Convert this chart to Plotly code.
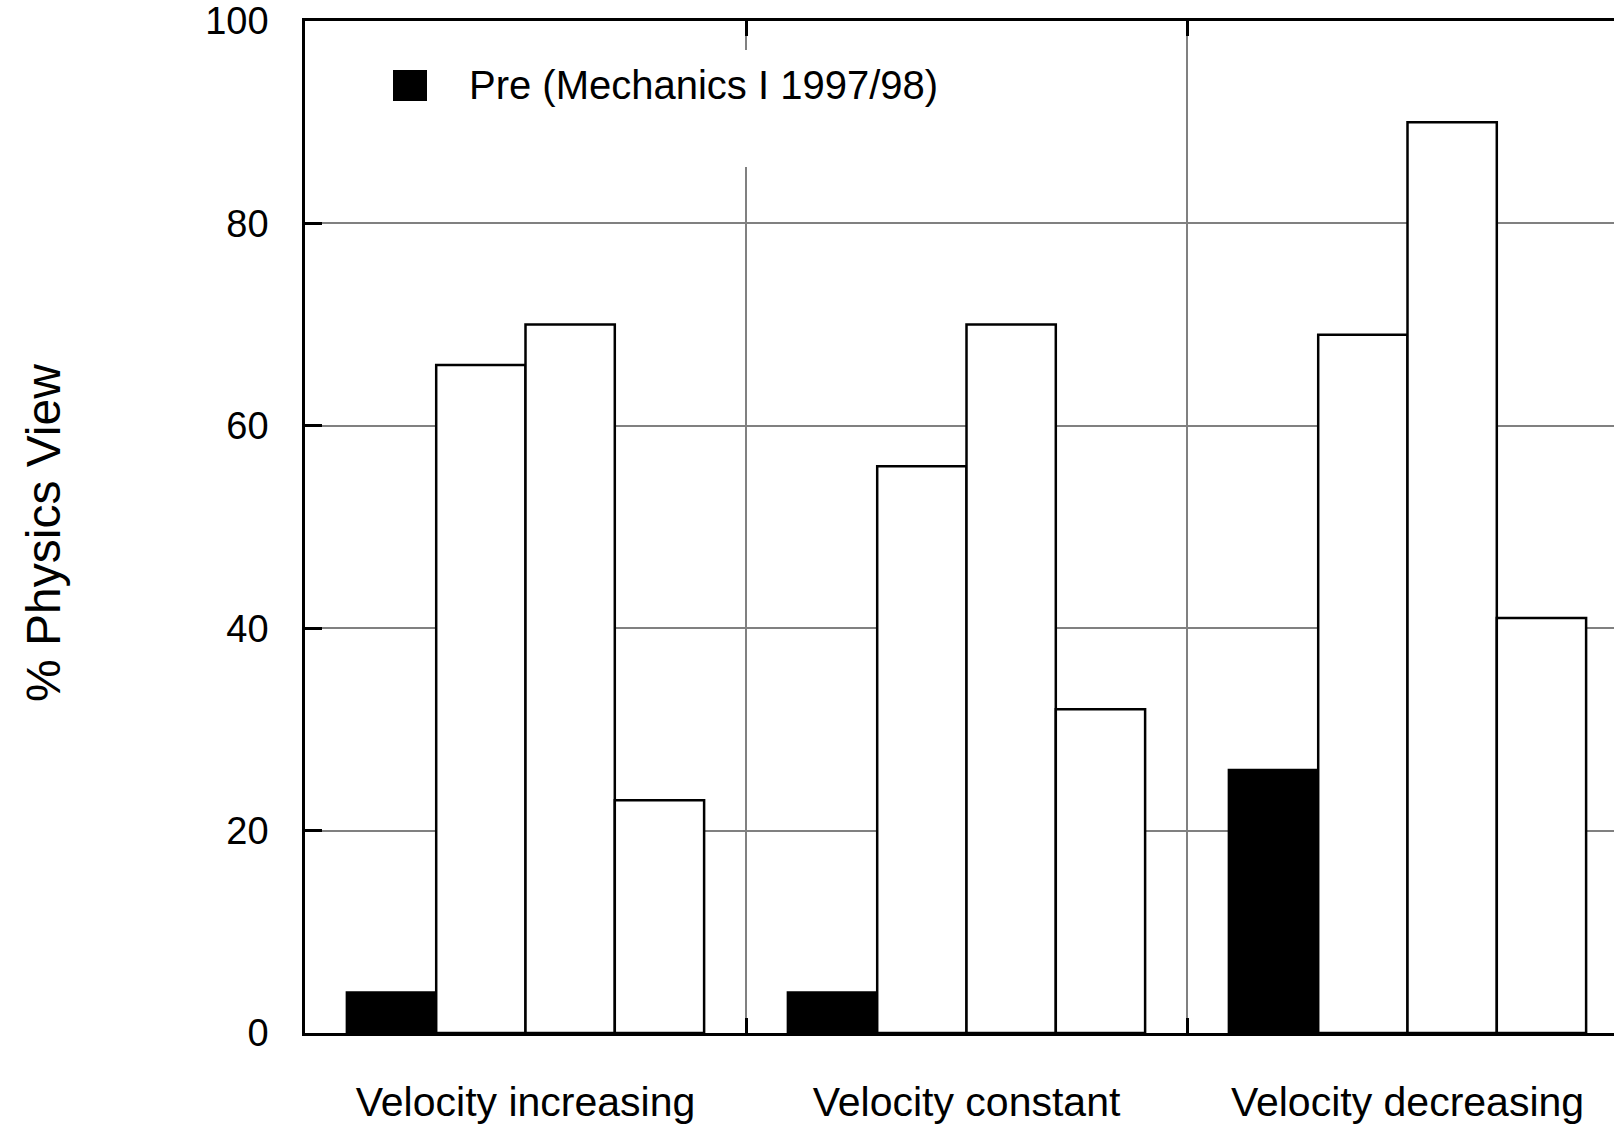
import plotly.graph_objects as go

categories = ["Velocity increasing", "Velocity constant", "Velocity decreasing"]
series_names = ["Pre (Mechanics I 1997/98)", "Series 2", "Series 3", "Series 4"]
pre_values = [4, 4, 26]
series2_values = [66, 56, 69]
series3_values = [70, 70, 90]
series4_values = [23, 32, 41]
y_ticks = [0, 20, 40, 60, 80, 100]
y_title = "% Physics View"

series_values = [pre_values, series2_values, series3_values, series4_values]
fill_colors = ["black", "white", "white", "white"]

W, H = 1614, 1128
ML, MT, MB = 305, 21, 95
plot_w = W - ML
plot_h = H - MT - MB
cat_px = 441.0
x_hi = -0.5 + plot_w / cat_px

FONT = "Liberation Sans, Arial, Helvetica, sans-serif"

fig = go.Figure()
for name, vals, col in zip(series_names, series_values, fill_colors):
    fig.add_trace(go.Bar(
        x=categories, y=vals, name=name,
        marker=dict(color=col, line=dict(color="black", width=2.5)),
        showlegend=False,
    ))

def px_x(p):
    return (p - ML) / plot_w

def px_y(p):
    return (H - MB - p) / plot_h

# legend background (hides grid line behind legend) and legend swatch
fig.add_shape(type="rect", xref="paper", yref="paper",
              x0=px_x(360), x1=px_x(960), y0=px_y(167), y1=px_y(50),
              fillcolor="white", line=dict(width=0), layer="above")
fig.add_shape(type="rect", xref="paper", yref="paper",
              x0=px_x(393), x1=px_x(427), y0=px_y(101), y1=px_y(70),
              fillcolor="black", line=dict(width=0), layer="above")
fig.add_annotation(xref="paper", yref="paper", x=px_x(467), y=px_y(85),
                   text=series_names[0], showarrow=False,
                   xanchor="left", yanchor="middle",
                   font=dict(family=FONT, size=40, color="black"))

# y-axis title
fig.add_annotation(xref="paper", yref="paper", x=px_x(43), y=px_y(533),
                   text=y_title, showarrow=False, textangle=-90,
                   xanchor="center", yanchor="middle",
                   font=dict(family=FONT, size=48, color="black"))

fig.update_layout(
    width=W, height=H,
    margin=dict(l=ML, r=0, t=MT, b=MB, pad=0, autoexpand=False),
    paper_bgcolor="white", plot_bgcolor="white",
    barmode="group", bargap=0.19, bargroupgap=0,
    font=dict(family=FONT, color="black"),
)
fig.update_xaxes(
    type="category", range=[-0.5, x_hi], automargin=False,
    tickson="boundaries", ticks="inside", ticklen=15, tickwidth=2.5, tickcolor="black",
    showgrid=True, gridcolor="#808080", gridwidth=2,
    showline=True, linecolor="black", linewidth=2.5, mirror="ticks",
    tickfont=dict(family=FONT, size=41, color="black"),
    ticklabelstandoff=31, ticklabeloverflow="allow",
)
fig.update_yaxes(
    range=[0, 100], tickvals=y_ticks, ticktext=[str(v) for v in y_ticks],
    automargin=False,
    ticks="inside", ticklen=17, tickwidth=2.5, tickcolor="black",
    showgrid=True, gridcolor="#808080", gridwidth=2, zeroline=False,
    showline=True, linecolor="black", linewidth=2.5, mirror=False,
    tickfont=dict(family=FONT, size=38, color="black"),
    ticklabelstandoff=26, ticklabeloverflow="allow",
)

# remove the page's default body margin so the figure fills the window exactly
fig.write_html(
    "out.html",
    config={"displayModeBar": False},
    post_script="document.body.style.margin='0px';"
                "document.documentElement.style.overflow='hidden';",
)
